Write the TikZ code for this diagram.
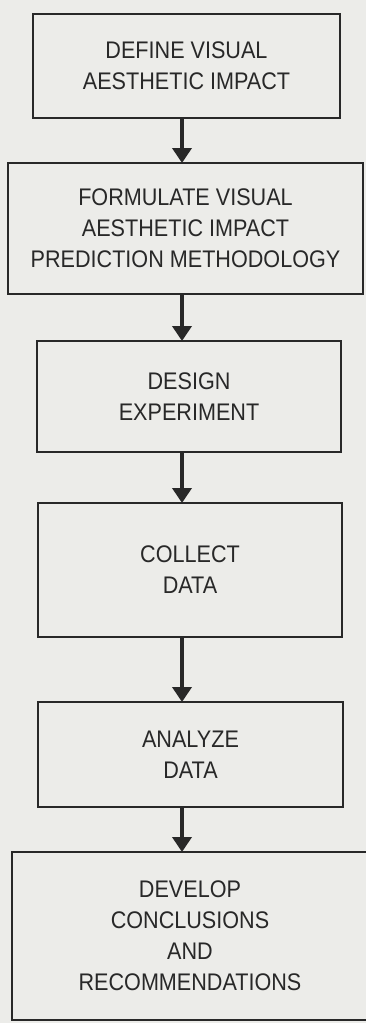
\documentclass[tikz,border=0pt]{standalone}
\usepackage{fontspec}
\setmainfont{Liberation Sans}
\newfontfamily\boxfont[FakeStretch=0.9]{Liberation Sans}
\usetikzlibrary{positioning}
\usetikzlibrary{arrows.meta}
\usepackage{xcolor}

\definecolor{paper}{RGB}{236,236,233}
\definecolor{ink}{RGB}{40,40,40}

\tikzset{
  stepbox/.style={draw=ink, line width=2.2pt, rectangle, align=center, text=ink,
    inner sep=0pt, outer sep=0pt, font=\boxfont\fontsize{24}{31}\selectfont},
  flow/.style={draw=ink, line width=4pt, -{Triangle[length=15pt, width=19pt]}}
}

\begin{document}
\begin{tikzpicture}[x=1pt, y=-1pt]

    % page
    \fill[paper] (0,0) rectangle (366,1023);
    \useasboundingbox (0,0) rectangle (366,1023);

    %nodes
    \node[stepbox, minimum width=307pt, minimum height=104pt] (def) at (186.5,66) {DEFINE VISUAL\\AESTHETIC IMPACT};
    \node[stepbox, minimum width=355pt, minimum height=131pt, below=45pt of def, xshift=-1pt] (form) {FORMULATE VISUAL\\AESTHETIC IMPACT\\PREDICTION METHODOLOGY};
    \node[stepbox, minimum width=304pt, minimum height=111pt, below=47pt of form, xshift=3.5pt] (design) {DESIGN\\EXPERIMENT};
    \node[stepbox, minimum width=304pt, minimum height=134pt, below=51pt of design, xshift=1pt] (collect) {COLLECT\\DATA};
    \node[stepbox, minimum width=305pt, minimum height=105pt, below=65pt of collect, xshift=0.5pt] (analyze) {ANALYZE\\DATA};
    \node[stepbox, minimum width=356pt, minimum height=168pt, below=45pt of analyze, xshift=-0.5pt] (develop) {DEVELOP\\CONCLUSIONS\\AND\\RECOMMENDATIONS};
    \coordinate (ax) at (182,0);

    % edges
    \foreach \a/\b in {def/form, form/design, design/collect, collect/analyze, analyze/develop}
        \draw[flow] (\a.south -| ax) -- (\b.north -| ax);

\end{tikzpicture}
\end{document}
